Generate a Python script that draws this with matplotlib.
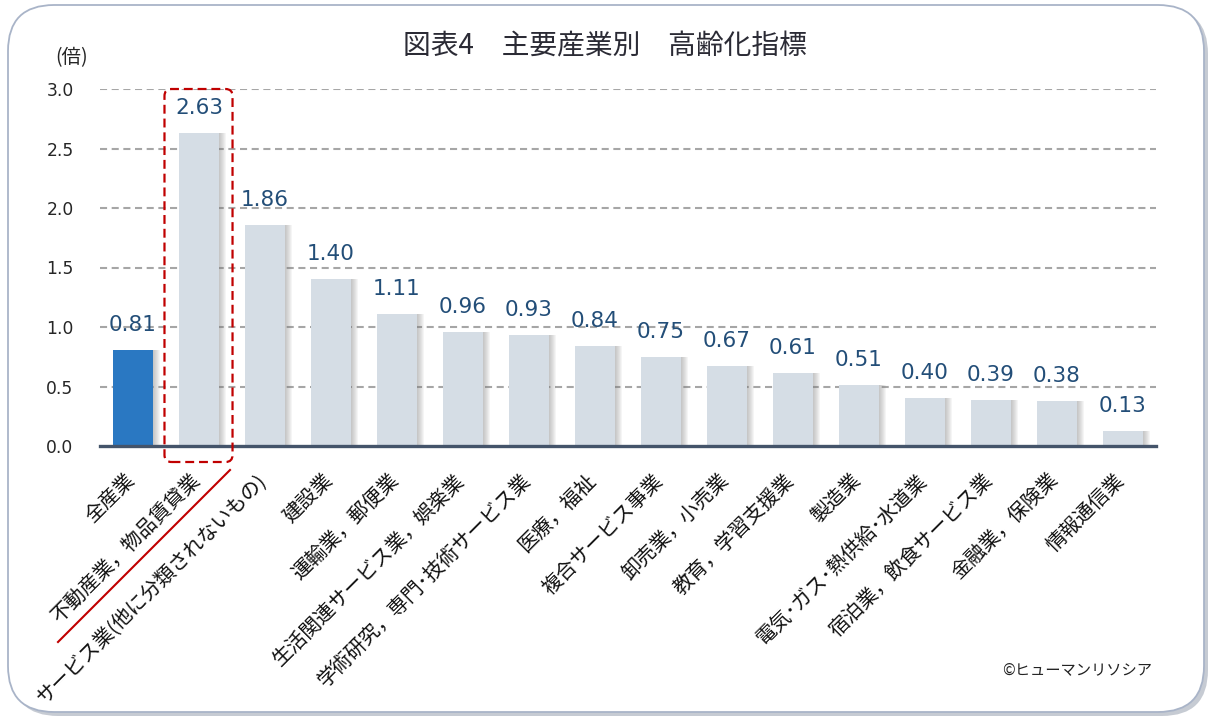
# -*- coding: utf-8 -*-
# 図表4 主要産業別 高齢化指標

import matplotlib
matplotlib.use('Agg')
import matplotlib.pyplot as plt
import matplotlib.transforms as mtransforms
from matplotlib.patches import FancyBboxPatch

plt.rcParams['font.family'] = ['Noto Sans CJK JP', 'DejaVu Sans']

# データ
categories = [
    '全産業',
    '不動産業，物品賃貸業',
    'サービス業(他に分類されないもの)',
    '建設業',
    '運輸業，郵便業',
    '生活関連サービス業，娯楽業',
    '学術研究，専門･技術サービス業',
    '医療，福祉',
    '複合サービス事業',
    '卸売業，小売業',
    '教育，学習支援業',
    '製造業',
    '電気･ガス･熱供給･水道業',
    '宿泊業，飲食サービス業',
    '金融業，保険業',
    '情報通信業',
]
values = [0.81, 2.63, 1.86, 1.40, 1.11, 0.96, 0.93, 0.84,
          0.75, 0.67, 0.61, 0.51, 0.40, 0.39, 0.38, 0.13]
y_ticks = [0.0, 0.5, 1.0, 1.5, 2.0, 2.5, 3.0]

W, H = 1219, 726
fig = plt.figure(figsize=(W / 100, H / 100), dpi=100)


def P(x, y):
    # ピクセル(左上原点) -> インチ
    return x / 100, (H - y) / 100


# 外枠（影付き角丸）
shadow = FancyBboxPatch(P(12, 716), 1196 / 100, 708 / 100,
                        boxstyle='round,pad=0,rounding_size=0.46',
                        transform=fig.dpi_scale_trans, facecolor='#B8BEC8',
                        edgecolor='none', alpha=0.8, zorder=0)
fig.add_artist(shadow)
frame = FancyBboxPatch(P(8, 712), 1196 / 100, 707 / 100,
                       boxstyle='round,pad=0,rounding_size=0.46',
                       transform=fig.dpi_scale_trans, facecolor='white',
                       edgecolor='#A9B4C8', linewidth=1.3, zorder=0.5)
fig.add_artist(frame)

ax = fig.add_axes([100 / W, 1 - 446 / H, 1056 / W, 357 / H])
ax.set_facecolor('none')
ax.set_zorder(2)

x = list(range(len(categories)))
colors = ['#2A78C2'] + ['#D5DDE5'] * (len(categories) - 1)
bw = 0.62
one_px = 1 / 66

# 棒の影（ぼかし風）
for k in range(1, 8):
    ax.bar([i + k * one_px for i in x], values, width=bw, color='#7A7A7A',
           alpha=0.07, linewidth=0, zorder=2)
ax.bar(x, values, width=bw, color=colors, zorder=3)

for i, v in zip(x, values):
    ax.annotate('{:.2f}'.format(v), (i, v), xytext=(0, 25), textcoords='offset pixels',
                ha='center', va='center', fontsize=15.5, color='#234E78',
                family=['DejaVu Sans'], zorder=5)

ax.set_xlim(-0.5, 15.5)
ax.set_ylim(0, 3.0)
ax.set_yticks(y_ticks)
ax.set_yticklabels(['{:.1f}'.format(t) for t in y_ticks], family=['DejaVu Sans'],
                   fontsize=12.3, color='#262626')
ax.tick_params(axis='y', length=0, pad=19)
ax.tick_params(axis='x', length=0, pad=0)
ax.set_xticks(x)
ax.set_xticklabels(categories, rotation=45, ha='right', va='top',
                   rotation_mode='anchor', fontsize=14.5, color='#111111')
offset = mtransforms.ScaledTranslation(-9 / 100, -24 / 100, fig.dpi_scale_trans)
for lab in ax.get_xticklabels():
    lab.set_transform(lab.get_transform() + offset)

for t in y_ticks[1:]:
    ax.axhline(t, color='#A6A6A6', linewidth=1.5, linestyle=(0, (3.4, 2.2)), zorder=1)

for s in ['top', 'right', 'left']:
    ax.spines[s].set_visible(False)
ax.spines['bottom'].set_color('#44546A')
ax.spines['bottom'].set_linewidth(2.4)
ax.spines['bottom'].set_zorder(4)

# 不動産業の強調枠
fig.canvas.draw()
x0, y0 = ax.transData.transform((0.477, 0))
x1, y1 = ax.transData.transform((1.508, 3.0))
y0 = y0 - 16
hl = FancyBboxPatch((x0 / 100, y0 / 100), (x1 - x0) / 100, (y1 - y0) / 100,
                    boxstyle='round,pad=0,rounding_size=0.07',
                    transform=fig.dpi_scale_trans, facecolor='none',
                    edgecolor='#C00000', linewidth=1.6, linestyle=(0, (4, 2.2)), zorder=6)
fig.add_artist(hl)

# 下線
line = plt.Line2D([230 / 100, 58 / 100], [(H - 470) / 100, (H - 642) / 100],
                  transform=fig.dpi_scale_trans, color='#C00000', linewidth=1.5, zorder=6)
fig.add_artist(line)

fig.text(605 / W, 1 - 46 / H, '図表4　主要産業別　高齢化指標', ha='center', va='center',
         fontsize=20, color='#2B2B35')
fig.text(72 / W, 1 - 58 / H, '(倍)', ha='center', va='center', fontsize=14, color='#262626')
fig.text(1152 / W, 1 - 670 / H, '©ヒューマンリソシア', ha='right', va='center',
         fontsize=11, color='#222222')

fig.savefig('out.png', dpi=100)
